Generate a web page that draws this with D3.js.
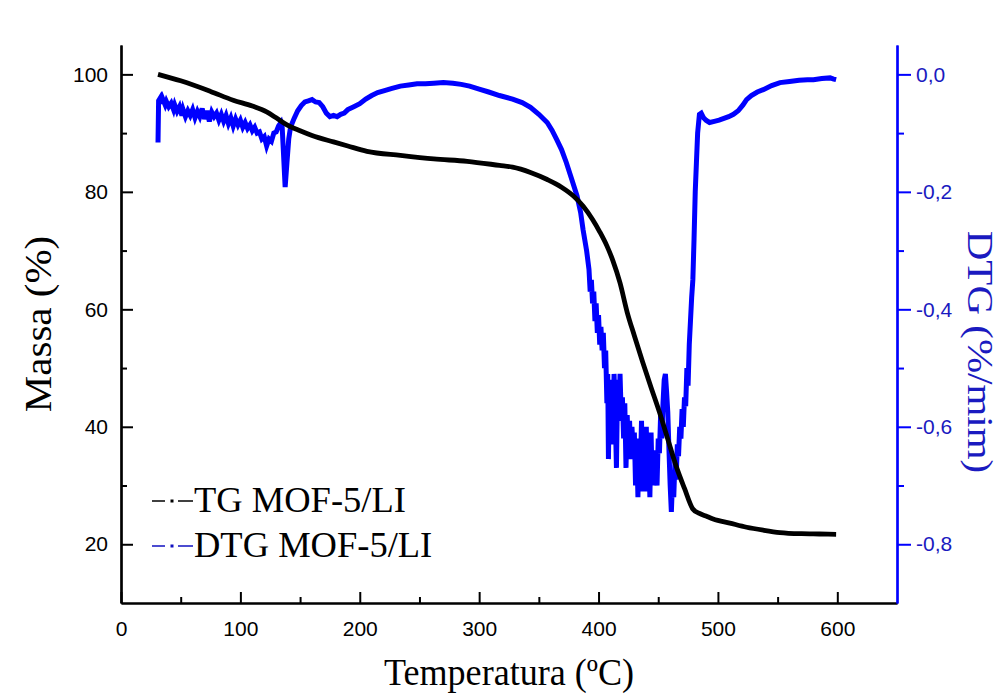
<!DOCTYPE html>
<html>
<head>
<meta charset="utf-8">
<script src="https://cdn.jsdelivr.net/npm/d3@7/dist/d3.min.js"></script>
<style>
  html, body { margin: 0; padding: 0; background: #fff; }
  svg { display: block; }
</style>
</head>
<body>
<svg id="chart" width="1004" height="695"></svg>
<script>
// ---- Data ----
const tgTemp = [31, 50, 75, 94, 110, 122, 130, 139, 150, 160, 178, 190, 206, 234, 262, 290, 317, 328, 343, 357, 369, 379, 387, 395, 401, 407, 412, 418, 424, 430, 437, 444, 451, 458, 465, 472, 479, 484, 490, 496, 510, 524, 538, 552, 570, 585, 599];
const tgMass = [100, 98.9, 97.1, 95.6, 94.6, 93.6, 92.6, 91.4, 90.4, 89.6, 88.5, 87.8, 86.9, 86.2, 85.6, 85.2, 84.5, 84.2, 83.3, 82.1, 80.8, 79.3, 77.6, 75.3, 73.2, 70.8, 68.3, 64.5, 59.5, 55.5, 51, 46.7, 42.5, 37.9, 33.3, 29.5, 26, 25.3, 24.8, 24.3, 23.6, 22.9, 22.4, 22.0, 21.8, 21.75, 21.7];

const dtgTemp = [31, 31.5, 33, 34, 35, 37, 38, 40, 42, 44, 45, 47, 49, 51, 52, 54, 56, 58, 60, 62, 64, 66, 68, 70, 72, 74, 76, 78, 80, 82, 84, 86, 88, 90, 92, 94, 96, 98, 100, 102, 104, 106, 108, 110, 112, 114, 116, 118, 120, 122, 124, 126, 128, 130, 132, 134, 135, 136, 137.5, 139, 140.5, 142, 145, 148, 151, 154, 157, 160, 163, 166, 169, 172, 175, 178, 181, 184, 187, 190, 195, 200, 205, 210, 215, 220, 227, 234, 241, 248, 255, 262, 270, 278, 285, 292, 300, 308, 317, 328, 336, 343, 350, 357, 361, 365, 369, 373, 377, 382, 385, 387, 390, 392, 393, 394, 395, 396, 397, 398, 399, 400, 401, 402, 403, 404, 405, 406, 407, 407.7, 408.3, 409, 410, 411, 412, 413, 414, 415, 416, 417, 418, 419, 420, 421, 422, 423, 424, 425, 426, 427, 428, 429, 430, 431, 432, 433, 434, 435, 436, 437, 438, 439, 440, 441, 442, 443, 444, 445, 446, 447, 448, 449, 450, 451, 452, 453, 454, 455, 456, 457, 458, 459, 460, 461, 462, 463, 464, 465, 466, 467, 468, 469, 470, 471, 472, 473, 474, 475, 476, 477, 478, 479, 480, 481, 482, 483, 484.5, 486, 488, 490, 493, 497, 501, 505, 509, 513, 517, 521, 524, 528, 533, 538, 545, 552, 560, 568, 575, 580, 587, 594, 597, 599];
const dtgValue = [-0.116, -0.045, -0.040, -0.050, -0.042, -0.052, -0.046, -0.055, -0.049, -0.060, -0.052, -0.063, -0.055, -0.070, -0.060, -0.072, -0.062, -0.070, -0.060, -0.074, -0.063, -0.072, -0.058, -0.076, -0.062, -0.080, -0.064, -0.072, -0.066, -0.078, -0.068, -0.080, -0.070, -0.084, -0.074, -0.088, -0.076, -0.086, -0.078, -0.090, -0.082, -0.092, -0.086, -0.096, -0.090, -0.100, -0.098, -0.110, -0.106, -0.122, -0.110, -0.114, -0.100, -0.098, -0.088, -0.082, -0.090, -0.130, -0.192, -0.150, -0.110, -0.090, -0.075, -0.062, -0.053, -0.047, -0.045, -0.043, -0.047, -0.048, -0.055, -0.066, -0.072, -0.070, -0.072, -0.068, -0.066, -0.060, -0.055, -0.050, -0.042, -0.036, -0.031, -0.028, -0.024, -0.020, -0.018, -0.016, -0.016, -0.015, -0.014, -0.015, -0.017, -0.020, -0.025, -0.030, -0.036, -0.042, -0.048, -0.056, -0.068, -0.082, -0.095, -0.111, -0.128, -0.150, -0.175, -0.207, -0.235, -0.264, -0.300, -0.332, -0.37, -0.35, -0.39, -0.37, -0.42, -0.39, -0.44, -0.41, -0.46, -0.43, -0.47, -0.44, -0.50, -0.47, -0.56, -0.51, -0.655, -0.55, -0.60, -0.52, -0.63, -0.51, -0.58, -0.67, -0.52, -0.59, -0.51, -0.58, -0.55, -0.62, -0.56, -0.67, -0.58, -0.64, -0.59, -0.655, -0.60, -0.64, -0.61, -0.70, -0.63, -0.72, -0.62, -0.68, -0.59, -0.71, -0.61, -0.68, -0.60, -0.71, -0.63, -0.72, -0.61, -0.70, -0.64, -0.69, -0.66, -0.70, -0.62, -0.645, -0.58, -0.62, -0.56, -0.52, -0.51, -0.54, -0.575, -0.64, -0.70, -0.745, -0.69, -0.72, -0.66, -0.69, -0.63, -0.65, -0.60, -0.62, -0.57, -0.60, -0.55, -0.565, -0.50, -0.53, -0.46, -0.42, -0.38, -0.35, -0.28, -0.20, -0.15, -0.10, -0.068, -0.066, -0.074, -0.078, -0.082, -0.080, -0.078, -0.075, -0.072, -0.068, -0.062, -0.052, -0.043, -0.036, -0.030, -0.026, -0.019, -0.014, -0.012, -0.010, -0.009, -0.009, -0.007, -0.006, -0.008, -0.009];

const xMajorTicks = [0, 100, 200, 300, 400, 500, 600];
const xMinorTicks = [50, 150, 250, 350, 450, 550];
const yMajorTicks = [20, 40, 60, 80, 100];
const yMinorTicks = [30, 50, 70, 90];
const y2MajorTicks = [0, -0.2, -0.4, -0.6, -0.8];
const y2MinorTicks = [-0.1, -0.3, -0.5, -0.7];
const legendLabels = ["TG MOF-5/LI", "DTG MOF-5/LI"];

// ---- Layout ----
const L = 121, R = 897, T = 45, B = 603;
const svg = d3.select("#chart");

const x = d3.scaleLinear().domain([0, 650]).range([L, R]);
const y = d3.scaleLinear().domain([10, 105]).range([B, T]);
const y2 = d3.scaleLinear().domain([-0.9, 0.05]).range([B, T]);

const blue = "#0000ff";
const blueText = "#1a1ac0";
const tickFont = "'Liberation Sans', Arial, sans-serif";
const serif = "'Liberation Serif', 'Times New Roman', serif";

// ---- Curves ----
const tgData = tgTemp.map((t, i) => [t, tgMass[i]]);
const dtgData = dtgTemp.map((t, i) => [t, dtgValue[i]]);

svg.append("path")
  .datum(dtgData)
  .attr("fill", "none")
  .attr("stroke", blue)
  .attr("stroke-width", 5)
  .attr("stroke-linejoin", "miter")
  .attr("d", d3.line().x(d => x(d[0])).y(d => y2(d[1])));

svg.append("path")
  .datum(tgData)
  .attr("fill", "none")
  .attr("stroke", "#000")
  .attr("stroke-width", 4.8)
  .attr("stroke-linejoin", "round")
  .attr("d", d3.line().curve(d3.curveMonotoneX).x(d => x(d[0])).y(d => y(d[1])));

// ---- Axes ----
function styleAxis(g, color, font) {
  g.select(".domain").attr("stroke", color).attr("stroke-width", 2.2);
  g.selectAll(".tick line").attr("stroke", color).attr("stroke-width", 2);
  g.selectAll(".tick text").attr("fill", color === blue ? blueText : "#000")
    .style("font-family", font).style("font-size", "21px");
}

// bottom
const gxMinor = svg.append("g").attr("transform", `translate(0,${B})`)
  .call(d3.axisBottom(x).tickValues(xMinorTicks).tickSize(-6).tickSizeOuter(0).tickFormat(""));
styleAxis(gxMinor, "#000", tickFont);
const gx = svg.append("g").attr("transform", `translate(0,${B})`)
  .call(d3.axisBottom(x).tickValues(xMajorTicks).tickSize(-11).tickSizeOuter(0).tickPadding(18).tickFormat(d3.format("d")));
styleAxis(gx, "#000", tickFont);

// left
const gyMinor = svg.append("g").attr("transform", `translate(${L},0)`)
  .call(d3.axisLeft(y).tickValues(yMinorTicks).tickSize(-6).tickSizeOuter(0).tickFormat(""));
styleAxis(gyMinor, "#000", tickFont);
const gy = svg.append("g").attr("transform", `translate(${L},0)`)
  .call(d3.axisLeft(y).tickValues(yMajorTicks).tickSize(-12).tickSizeOuter(0).tickPadding(13).tickFormat(d3.format("d")));
styleAxis(gy, "#000", tickFont);

// right
const fmtComma = v => v.toFixed(1).replace(".", ",");
const gy2Minor = svg.append("g").attr("transform", `translate(${R},0)`)
  .call(d3.axisRight(y2).tickValues(y2MinorTicks).tickSize(7).tickSizeOuter(0).tickFormat(""));
styleAxis(gy2Minor, blue, tickFont);
const gy2 = svg.append("g").attr("transform", `translate(${R},0)`)
  .call(d3.axisRight(y2).tickValues(y2MajorTicks).tickSize(14).tickSizeOuter(0).tickPadding(5).tickFormat(fmtComma));
styleAxis(gy2, blue, tickFont);

// ---- Titles ----
svg.append("text")
  .attr("transform", `translate(${(L + R) / 2},685) scale(0.975,1)`)
  .attr("text-anchor", "middle")
  .style("font-family", serif).style("font-size", "37px")
  .text("Temperatura (ºC)");

svg.append("text")
  .attr("transform", `translate(51,324) scale(0.95,1) rotate(-90)`)
  .attr("text-anchor", "middle")
  .style("font-family", serif).style("font-size", "41px")
  .text("Massa (%)");

svg.append("text")
  .attr("transform", `translate(968,352) scale(0.88,1) rotate(90)`)
  .attr("text-anchor", "middle")
  .attr("fill", blueText)
  .style("font-family", serif).style("font-size", "41px")
  .text("DTG (%/mim)");

// ---- Legend ----
const legendColors = ["#000", "#1010c0"];
const legendY = [501, 546];
legendLabels.forEach((lab, i) => {
  const g = svg.append("g");
  const cy = legendY[i];
  g.append("line").attr("x1", 152).attr("x2", 165).attr("y1", cy).attr("y2", cy)
    .attr("stroke", legendColors[i]).attr("stroke-width", 1.5);
  g.append("rect").attr("x", 170.5).attr("y", cy - 1.5).attr("width", 3).attr("height", 3)
    .attr("fill", legendColors[i]);
  g.append("line").attr("x1", 178).attr("x2", 193).attr("y1", cy).attr("y2", cy)
    .attr("stroke", legendColors[i]).attr("stroke-width", 1.5);
  g.append("text").attr("transform", `translate(194,${cy + 11})`)
    .style("font-family", serif).style("font-size", "36.5px")
    .text(lab);
});
</script>
</body>
</html>
